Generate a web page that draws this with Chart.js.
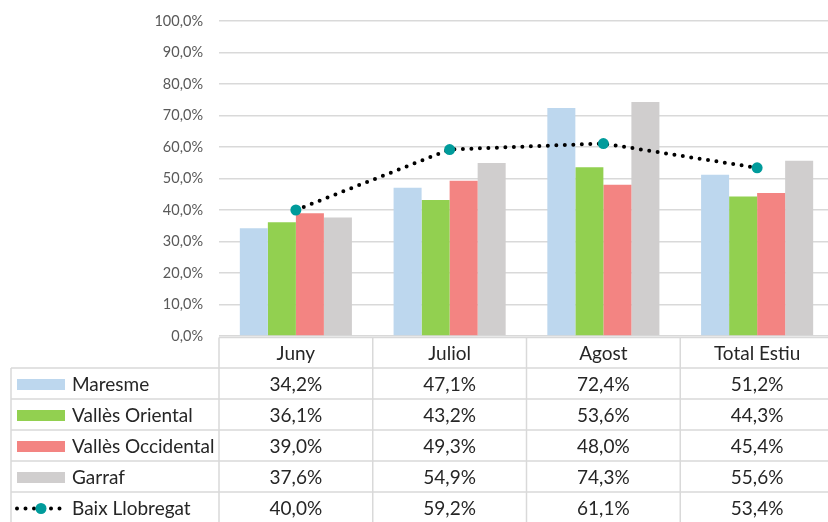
<!DOCTYPE html>
<html>
<head>
<meta charset="utf-8">
<script src="https://cdn.jsdelivr.net/npm/chart.js@4.4.1/dist/chart.umd.min.js"></script>
<style>
  html, body { margin: 0; padding: 0; background: #fff; overflow: hidden; }
  #wrap { width: 840px; height: 522px; }
</style>
</head>
<body>
<div id="wrap"><canvas id="chart" width="840" height="522"></canvas></div>
<script>
const months = ['Juny', 'Juliol', 'Agost', 'Total Estiu'];

const maresme = [34.2, 47.1, 72.4, 51.2];
const vallesOriental = [36.1, 43.2, 53.6, 44.3];
const vallesOccidental = [39.0, 49.3, 48.0, 45.4];
const garraf = [37.6, 54.9, 74.3, 55.6];
const baixLlobregat = [40.0, 59.2, 61.1, 53.4];

const yTicks = [0, 10, 20, 30, 40, 50, 60, 70, 80, 90, 100];

const FONT = 'Lato, "Open Sans", sans-serif';

function pct(v) {
    return v.toFixed(1).replace('.', ',') + '%';
}

// draws the data table under the plot, Excel style
const dataTable = {
    id: 'dataTable',
    afterDraw(chart) {
        const ctx = chart.ctx;
        const area = chart.chartArea;
        const x = chart.scales.x;
        const colW = (area.right - area.left) / months.length;
        const top = area.bottom + 1.5;
        const headH = 30.5;
        const rowH = 31;
        const tableLeft = 11;
        const right = chart.width;
        const bottom = chart.height;
        const datasets = chart.data.datasets;

        ctx.save();
        ctx.strokeStyle = '#d9d9d9';
        ctx.lineWidth = 1.5;

        // horizontal lines
        ctx.beginPath();
        ctx.moveTo(area.left, top);
        ctx.lineTo(right, top);
        for (let r = 0; r < datasets.length; r++) {
            const y = top + headH + r * rowH;
            ctx.moveTo(tableLeft, y);
            ctx.lineTo(right, y);
        }
        // vertical lines
        for (let c = 0; c < months.length; c++) {
            const xx = area.left + c * colW;
            ctx.moveTo(xx, top);
            ctx.lineTo(xx, bottom);
        }
        ctx.moveTo(tableLeft, top + headH);
        ctx.lineTo(tableLeft, bottom);
        ctx.stroke();

        ctx.fillStyle = '#262626';
        ctx.font = '19px ' + FONT;
        ctx.textBaseline = 'middle';
        ctx.textAlign = 'center';
        months.forEach((m, i) => {
            ctx.fillText(m, x.getPixelForValue(i), top + headH / 2 + 1);
        });

        datasets.forEach((ds, r) => {
            const cy = top + headH + r * rowH + rowH / 2 + 1;
            // legend key
            if (ds.type === 'line') {
                ctx.save();
                ctx.strokeStyle = ds.borderColor;
                ctx.lineWidth = ds.borderWidth;
                ctx.lineCap = 'round';
                ctx.setLineDash(ds.borderDash);
                ctx.beginPath();
                ctx.moveTo(17, cy);
                ctx.lineTo(65, cy);
                ctx.stroke();
                ctx.restore();
                ctx.fillStyle = ds.pointBackgroundColor;
                ctx.beginPath();
                ctx.arc(41, cy, ds.pointRadius, 0, Math.PI * 2);
                ctx.fill();
            } else {
                ctx.fillStyle = ds.backgroundColor;
                ctx.fillRect(17, cy - 5.5, 48, 11);
            }
            ctx.fillStyle = '#262626';
            ctx.textAlign = 'left';
            ctx.fillText(ds.label, 72, cy);
            ctx.textAlign = 'center';
            ds.data.forEach((v, i) => {
                ctx.fillText(pct(v), x.getPixelForValue(i), cy);
            });
        });
        ctx.restore();
    }
};

const barOpts = {
    categoryPercentage: 0.729,
    barPercentage: 1,
    borderWidth: 0,
    order: 1
};

new Chart(document.getElementById('chart'), {
    type: 'bar',
    data: {
        labels: months,
        datasets: [
            { label: 'Maresme', data: maresme, backgroundColor: '#bdd7ee', ...barOpts },
            { label: 'Vallès Oriental', data: vallesOriental, backgroundColor: '#92d050', ...barOpts },
            { label: 'Vallès Occidental', data: vallesOccidental, backgroundColor: '#f38482', ...barOpts },
            { label: 'Garraf', data: garraf, backgroundColor: '#d0cece', ...barOpts },
            {
                type: 'line',
                label: 'Baix Llobregat',
                data: baixLlobregat,
                borderColor: '#000000',
                borderWidth: 4,
                borderDash: [0, 8.5],
                borderCapStyle: 'round',
                pointRadius: 5.5,
                pointBackgroundColor: '#009b9b',
                pointBorderWidth: 0,
                pointBorderColor: '#009b9b',
                fill: false,
                tension: 0,
                order: 0
            }
        ]
    },
    options: {
        responsive: false,
        animation: false,
        layout: { padding: { top: 21, right: 6, bottom: 186, left: 0 } },
        plugins: {
            legend: { display: false },
            tooltip: { enabled: false }
        },
        scales: {
            x: { display: false },
            y: {
                min: 0,
                max: 100,
                afterBuildTicks(scale) {
                    scale.ticks = yTicks.map(v => ({ value: v }));
                },
                afterFit(scale) {
                    scale.width = 219;
                },
                border: { display: false },
                grid: { color: '#d9d9d9', lineWidth: 1.5, drawTicks: true, tickLength: 12, tickColor: 'rgba(0,0,0,0)' },
                ticks: {
                    padding: 4,
                    color: '#595959',
                    font: { family: FONT, size: 14.5 },
                    callback: v => pct(v)
                }
            }
        }
    },
    plugins: [dataTable]
});
</script>
</body>
</html>
